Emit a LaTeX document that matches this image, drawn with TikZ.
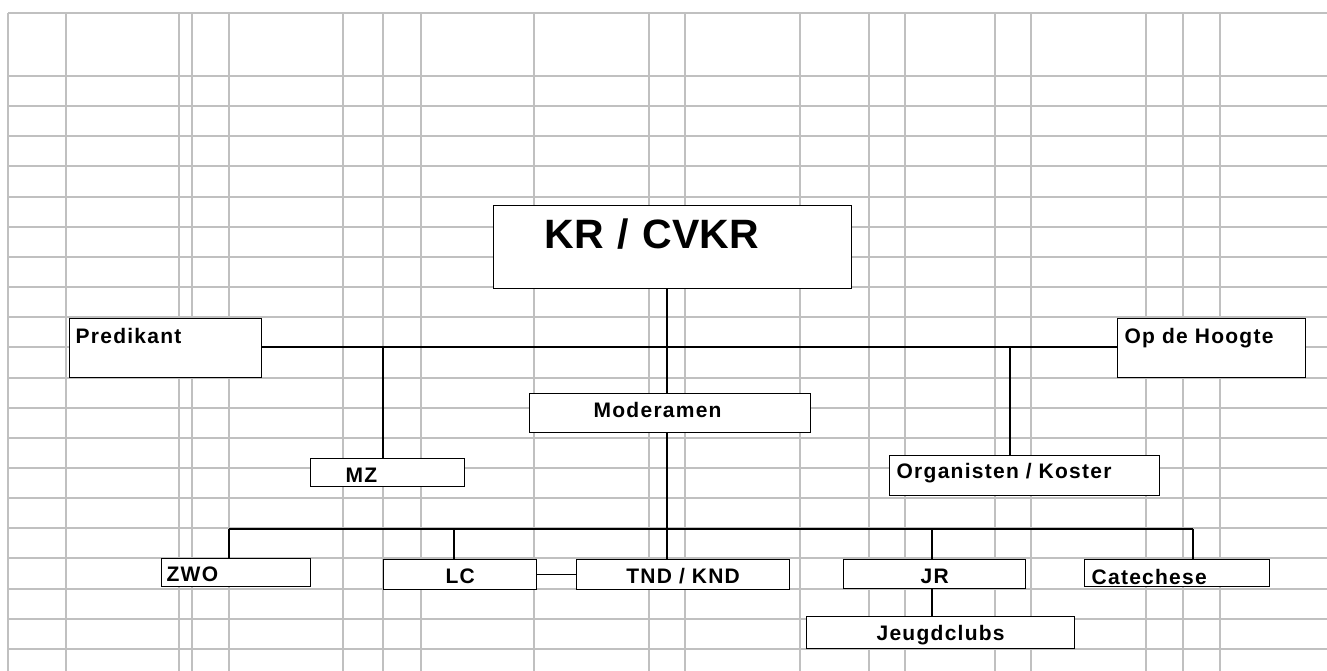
\documentclass[tikz,border=0pt]{standalone}
\usepackage{fontspec}
\setmainfont{Liberation Sans}
\newfontfamily\spacedsans{Liberation Sans}[LetterSpace=6]
\usetikzlibrary{positioning, calc}
\definecolor{GridGray}{HTML}{C0C0C0}
\newcommand{\orgfont}{\spacedsans\bfseries\fontsize{21}{25}\selectfont}
\newcommand{\topfont}{\bfseries\fontsize{41}{48}\selectfont}

\tikzset{
  gridline/.style={draw=GridGray, line width=2pt},
  orgbox/.style={draw=black, fill=white, line width=1.3pt, inner ysep=0pt,
                 anchor=north west, align=left, font=\orgfont},
  midbox/.style={orgbox, inner xsep=0pt, align=center},
  link/.style={draw=black, line width=1.1pt}
}

\begin{document}
\begin{tikzpicture}[x=1pt, y=-1pt]
  \useasboundingbox (0,0) rectangle (1327,671);
  % spreadsheet grid
  \foreach \gx in {8,66,179,192,229,343,383,421,534,649,685,800,869,905,995,1031,1146,1183,1220}
    \draw[gridline] (\gx,13) -- (\gx,671);
  \draw[gridline] (8,13) -- (1327,13);
  \foreach \i in {0,...,19}
    \draw[gridline] (8,76+30.15*\i) -- (1327,76+30.15*\i);

  % boxes
  \node[orgbox, font=\topfont, inner xsep=51pt, text width=256pt, text height=43pt, text depth=40pt]
    (kr) at (493,205) {KR / CVKR};
  \node[orgbox, inner xsep=6pt, text width=180pt, text height=24.7pt, text depth=34.3pt]
    (pred) at (69,318) {Predikant};
  \node[orgbox, inner xsep=7pt, text width=174pt, text height=24.7pt, text depth=34.3pt]
    (hoogte) at (1117,318) {Op de Hoogte};
  \node[orgbox, inner xsep=64pt, text width=153pt, text height=23.7pt, text depth=15.3pt]
    (mod) at (529,393) {Moderamen};
  \node[orgbox, inner xsep=35pt, text width=84pt, text height=24pt, text depth=4pt]
    (mz) at (310,458) {MZ};
  \node[orgbox, inner xsep=7pt, text width=256pt, text height=23pt, text depth=17pt]
    (org) at (889,455) {Organisten / Koster};
  \node[orgbox, inner xsep=5pt, text width=139pt, text height=23pt, text depth=5pt]
    (zwo) at (161,558) {ZWO};
  \node[midbox, text width=153pt, text height=24pt, text depth=6pt]
    (lc) at (383,559) {LC};
  \node[midbox, text width=213pt, text height=24pt, text depth=6pt]
    (tnd) at (576,559) {TND / KND};
  \node[midbox, text width=182pt, text height=24pt, text depth=5pt]
    (jr) at (843,559) {JR};
  \node[orgbox, inner xsep=7pt, text width=171pt, text height=25pt, text depth=2pt]
    (cat) at (1084,559) {Catechese};
  \node[midbox, text width=268pt, text height=24pt, text depth=8pt]
    (jeugd) at (806,616) {Jeugdclubs};

  % connectors
  \coordinate (trunk) at (667,347);
  \coordinate (mzjoin) at (383,347);
  \coordinate (orgjoin) at (1010,347);
  \coordinate (busL) at (229,529);
  \coordinate (busR) at (1193,529);
  \coordinate (lcjoin) at (454,529);
  \coordinate (jrjoin) at (932,529);
  \draw[link] (pred.east |- trunk) -- (hoogte.west |- trunk);
  \draw[link] (kr.south -| trunk) -- (mod.north -| trunk);
  \draw[link] (mod.south -| trunk) -- (tnd.north -| trunk);
  \draw[link] (mzjoin) -- (mz.north -| mzjoin);
  \draw[link] (orgjoin) -- (org.north -| orgjoin);
  \draw[link] (busL) -- (busR);
  \draw[link] (busL) -- (zwo.north -| busL);
  \draw[link] (lcjoin) -- (lc.north -| lcjoin);
  \draw[link] (jrjoin) -- (jr.north -| jrjoin);
  \draw[link] (busR) -- (cat.north -| busR);
  \draw[link] (lc.east) -- (tnd.west);
  \draw[link] (jr.south -| jrjoin) -- (jeugd.north -| jrjoin);
\end{tikzpicture}
\end{document}
